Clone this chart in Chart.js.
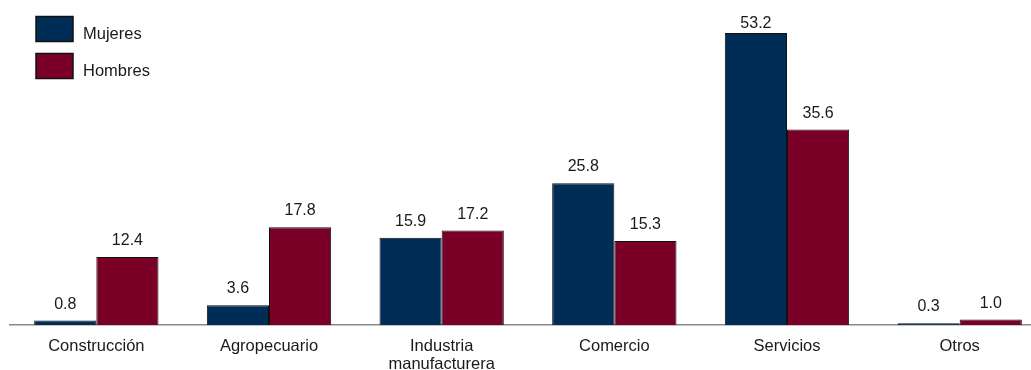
<!DOCTYPE html>
<html>
<head>
<meta charset="utf-8">
<script src="https://cdn.jsdelivr.net/npm/chart.js@4/dist/chart.umd.min.js"></script>
<style>
    html, body { margin: 0; padding: 0; background: #fff; overflow: hidden; }
    #wrap { width: 1050px; height: 370px; }
</style>
</head>
<body>
<div id="wrap"><canvas id="myChart" width="1050" height="370"></canvas></div>
<script>
const categories = ['Construcción', 'Agropecuario', ['Industria', 'manufacturera'], 'Comercio', 'Servicios', 'Otros'];
const mujeres = [0.8, 3.6, 15.9, 25.8, 53.2, 0.3];
const hombres = [12.4, 17.8, 17.2, 15.3, 35.6, 1.0];

const FONT = '"Liberation Sans", Arial, sans-serif';
const TEXT_COLOR = '#1a1a1a';

/**
 * 棒の上に値を描画します。
 */
const valueLabels = {
    id: 'valueLabels',
    afterDatasetsDraw: (chart) => {
        const ctx = chart.ctx;
        ctx.save();
        ctx.font = '16px ' + FONT;
        ctx.fillStyle = TEXT_COLOR;
        ctx.textAlign = 'center';
        ctx.textBaseline = 'alphabetic';
        chart.data.datasets.forEach((ds, i) => {
            chart.getDatasetMeta(i).data.forEach((bar, j) => {
                const y = Math.max(bar.y - 12, 28);
                ctx.fillText(ds.data[j].toFixed(1), bar.x, y);
            });
        });
        ctx.restore();
    },
};

/**
 * 左上の凡例を描画します。
 */
const sideLegend = {
    id: 'sideLegend',
    afterDraw: (chart) => {
        const ctx = chart.ctx;
        ctx.save();
        ctx.font = '16.5px ' + FONT;
        ctx.textBaseline = 'alphabetic';
        chart.data.datasets.forEach((ds, i) => {
            const top = 16.5 + i * 37;
            ctx.fillStyle = ds.backgroundColor;
            ctx.fillRect(36, top, 37, 25);
            ctx.strokeStyle = '#111';
            ctx.lineWidth = 1.5;
            ctx.strokeRect(36, top, 37, 25);
            ctx.fillStyle = TEXT_COLOR;
            ctx.fillText(ds.label, 83, top + 22.5);
        });
        ctx.restore();
    },
};

const createChart = () => {
    const config = {
        type: 'bar',
        data: {
            labels: categories,
            datasets: [
                {
                    label: 'Mujeres',
                    data: mujeres,
                    backgroundColor: '#002d55',
                    borderColor: '#111',
                    borderWidth: 1,
                },
                {
                    label: 'Hombres',
                    data: hombres,
                    backgroundColor: '#7a0028',
                    borderColor: '#111',
                    borderWidth: 1,
                },
            ],
        },
        options: {
            responsive: false,
            animation: false,
            layout: {
                padding: { left: 10, right: 4, top: 23, bottom: 0 },
            },
            datasets: {
                bar: {
                    categoryPercentage: 0.72,
                    barPercentage: 1.0,
                },
            },
            plugins: {
                legend: { display: false },
                tooltip: { enabled: false },
            },
            scales: {
                x: {
                    grid: { display: false, drawTicks: false },
                    border: { display: true, color: '#8a8a8a', width: 1.5 },
                    ticks: {
                        padding: 12,
                        color: TEXT_COLOR,
                        maxRotation: 0,
                        autoSkip: false,
                        font: { family: FONT, size: 16.5, lineHeight: 1.1 },
                    },
                    afterFit: (axis) => {
                        axis.height = 45;
                    },
                },
                y: {
                    display: false,
                    min: 0,
                    max: 55,
                },
            },
        },
        plugins: [valueLabels, sideLegend],
    };

    return new Chart(document.getElementById('myChart'), config);
};

createChart();
</script>
</body>
</html>
